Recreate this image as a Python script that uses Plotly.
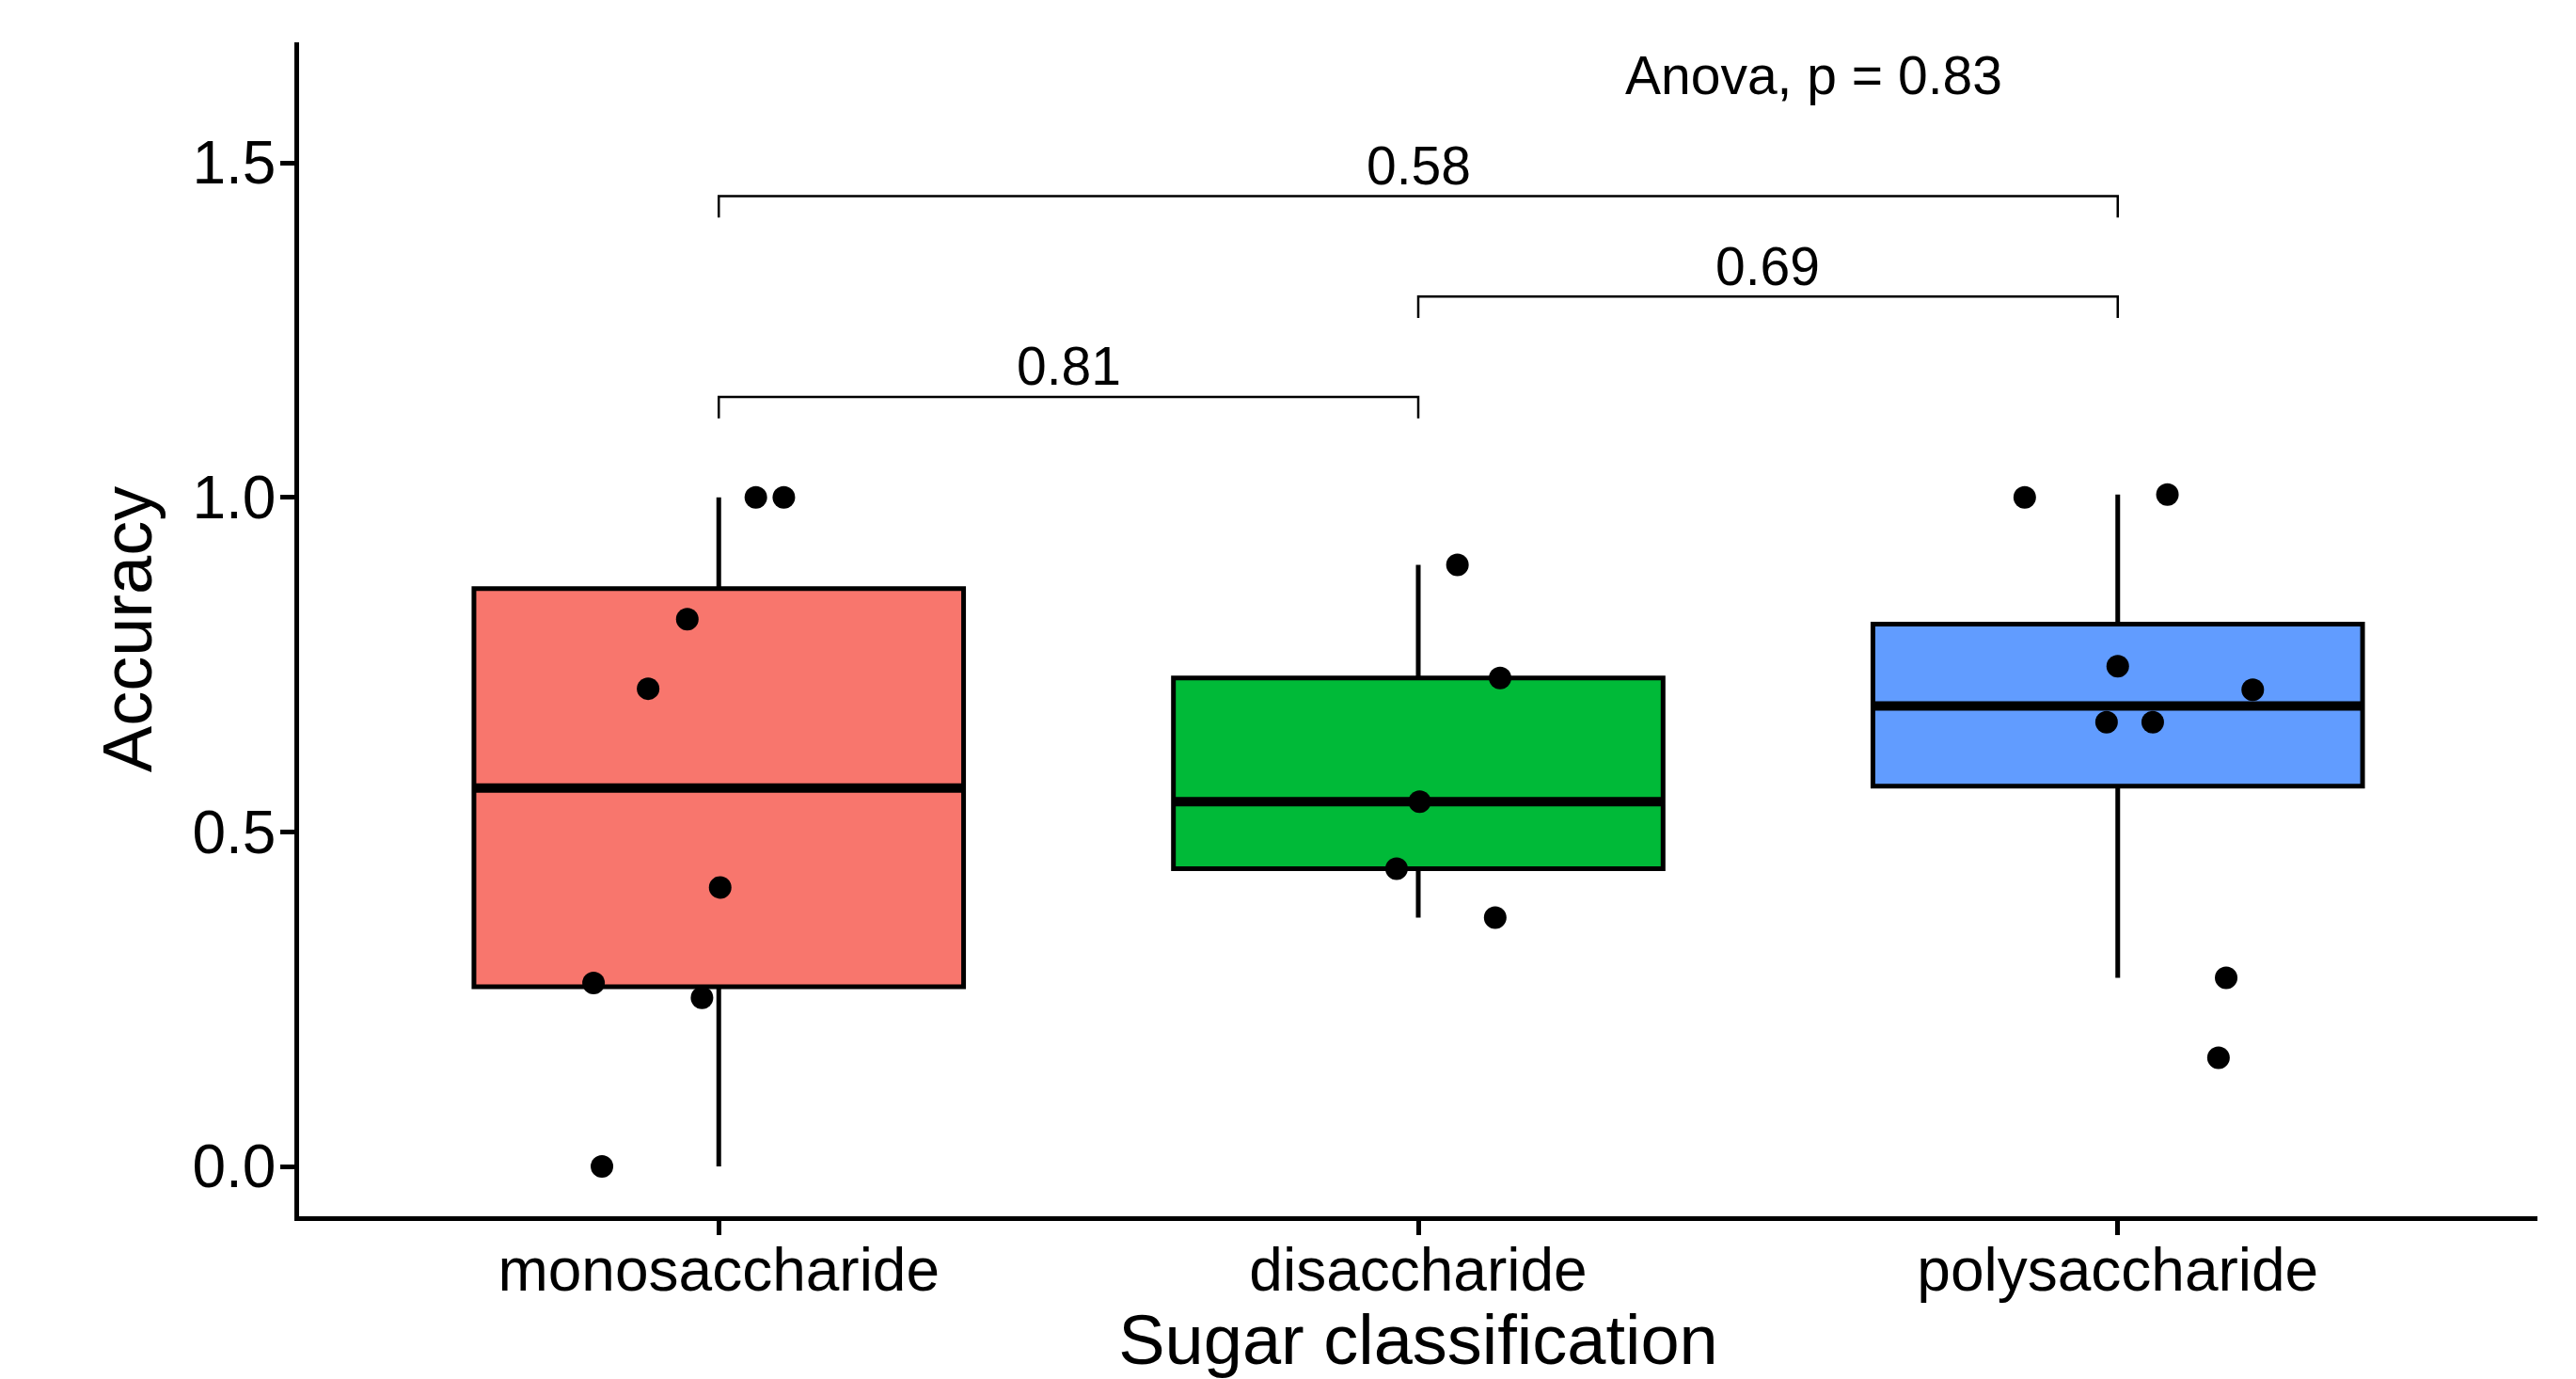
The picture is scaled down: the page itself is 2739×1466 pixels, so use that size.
import numpy as np
import plotly.graph_objects as go

# ---------------- data ----------------
categories = ["monosaccharide", "disaccharide", "polysaccharide"]
mono_accuracy = [1.0, 1.0, 0.818, 0.714, 0.417, 0.274, 0.252, 0.0]
di_accuracy = [0.899, 0.73, 0.545, 0.445, 0.372]
poly_accuracy = [1.0, 1.004, 0.7475, 0.7125, 0.664, 0.664, 0.282, 0.1625]
# horizontal jitter of each point (category units)
mono_jitter = [0.053, 0.093, -0.045, -0.101, 0.002, -0.179, -0.024, -0.167]
di_jitter = [0.056, 0.117, 0.002, -0.031, 0.11]
poly_jitter = [-0.133, 0.071, 0.0, 0.193, -0.016, 0.05, 0.155, 0.144]
pair_groups = [(0, 1), (1, 2), (0, 2)]
pair_pvalues = ["0.81", "0.69", "0.58"]
anova_label = "Anova, p = 0.83"
y_ticks = [0.0, 0.5, 1.0, 1.5]

# ---------------- styles ----------------
box_colors = ["#F8766D", "#00BA38", "#619CFF"]
FONT = "Liberation Sans, Arial, Helvetica, sans-serif"
BOX_W = 0.7
bracket_levels = [1.15, 1.30, 1.45]
TIP = 0.032
LABEL_LIFT = 0.046


def box_stats(values):
    v = np.asarray(values, dtype=float)
    q1, med, q3 = np.percentile(v, [25, 50, 75])
    iqr = q3 - q1
    lo = v[v >= q1 - 1.5 * iqr].min()
    hi = v[v <= q3 + 1.5 * iqr].max()
    return q1, med, q3, lo, hi


groups = [
    (mono_accuracy, mono_jitter),
    (di_accuracy, di_jitter),
    (poly_accuracy, poly_jitter),
]

fig = go.Figure()
for i, (vals, jit) in enumerate(groups):
    q1, med, q3, lo, hi = box_stats(vals)
    fig.add_trace(go.Box(
        x=[i], q1=[q1], median=[med], q3=[q3], lowerfence=[lo], upperfence=[hi],
        width=BOX_W, whiskerwidth=0, fillcolor=box_colors[i],
        line=dict(color="black", width=5), showlegend=False, hoverinfo="skip",
        name=categories[i],
    ))
    fig.add_trace(go.Scatter(
        x=[i - BOX_W / 2, i + BOX_W / 2], y=[med, med], mode="lines",
        line=dict(color="black", width=10), showlegend=False, hoverinfo="skip",
    ))
    fig.add_trace(go.Scatter(
        x=[i + j for j in jit], y=vals, mode="markers",
        marker=dict(color="black", size=24, line=dict(width=0)),
        showlegend=False, name=categories[i],
    ))

annotations = []
for (a, b), lvl, p in zip(pair_groups, bracket_levels, pair_pvalues):
    fig.add_trace(go.Scatter(
        x=[a, a, b, b], y=[lvl - TIP, lvl, lvl, lvl - TIP], mode="lines",
        line=dict(color="black", width=2.5), showlegend=False, hoverinfo="skip",
    ))
    annotations.append(dict(
        x=(a + b) / 2, y=lvl + LABEL_LIFT, xref="x", yref="y", text=p,
        showarrow=False, xanchor="center", yanchor="middle",
        font=dict(family=FONT, size=57, color="black"),
    ))

annotations.append(dict(
    x=1.2935, y=1.631, xref="x", yref="y", text=anova_label, showarrow=False,
    xanchor="left", yanchor="middle", font=dict(family=FONT, size=57, color="black"),
))

axis_common = dict(
    showline=True, linecolor="black", linewidth=4.5, ticks="outside", ticklen=15,
    tickwidth=4.5, tickcolor="black", showgrid=False, zeroline=False,
    tickfont=dict(family=FONT, size=64, color="black"),
)

# the page places the figure 8 px from the top-left corner (body margin)
fig.update_layout(
    width=2731, height=1458,
    margin=dict(l=310, r=41, t=37, b=173, autoexpand=False),
    plot_bgcolor="white", paper_bgcolor="white",
    font=dict(family=FONT, color="black"),
    xaxis=dict(range=[-0.6, 2.6], tickvals=[0, 1, 2], ticktext=categories,
               ticklabelstandoff=-18,
               title=dict(text="Sugar classification", font=dict(family=FONT, size=74), standoff=38),
               automargin=False, **axis_common),
    yaxis=dict(range=[-0.0745, 1.680], tickvals=y_ticks, tickformat=".1f",
               ticklabelstandoff=-8,
               title=dict(text="Accuracy", font=dict(family=FONT, size=74), standoff=20),
               automargin=False, **axis_common),
    annotations=annotations,
)

fig.write_html("out.html")
